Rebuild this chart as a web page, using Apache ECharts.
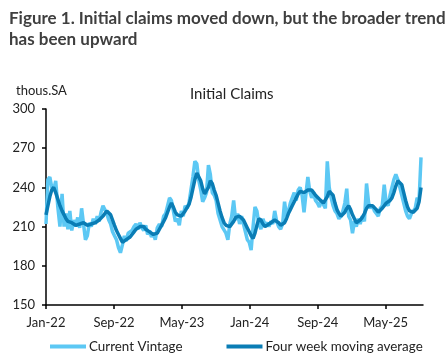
<!DOCTYPE html>
<html>
<head>
<meta charset="utf-8">
<script src="https://cdn.jsdelivr.net/npm/echarts@6/dist/echarts.min.js"></script>
<style>
html,body{margin:0;padding:0;background:#fff;}
#c{width:447px;height:358px;}
</style>
</head>
<body>
<div id="c"></div>
<script>
// Weekly data, first week ending 2022-01-01
const startDate = '2022-01-01';
const currentVintage = [
212,246,248,240,238,245,225,210,235,210,220,208,222,207,215,210,217,209,224,225,
200,203,213,210,216,212,218,214,221,226,227,220,215,212,206,203,200,194,190,196,
203,199,205,204,207,210,212,208,213,209,207,211,204,207,202,205,200,209,212,210,
218,220,226,232,230,222,214,216,211,222,218,226,224,228,238,248,260,258,245,238,
229,232,236,257,250,236,234,230,220,215,210,211,205,200,212,218,230,215,220,212,
218,212,206,200,198,192,210,225,222,212,208,216,211,213,210,214,212,222,214,210,
208,212,229,218,222,228,232,236,230,238,240,234,221,235,248,237,232,236,230,228,
225,230,227,224,260,240,232,226,222,220,216,218,222,228,239,218,215,205,214,210,
216,212,218,214,243,228,224,226,222,220,218,224,226,242,228,226,234,240,246,250,
246,240,234,228,222,218,216,220,222,224,232,230,263
];
const movingAverage = [
219,226,233,238,240,236,231,226,222,219,216,214,213,213,212,211,211,212,213,213,
212,211,211,212,213,213,214,215,216,218,220,222,222,219,215,211,207,204,201,198,
199,200,201,202,204,206,208,209,210,211,210,208,207,206,205,204,203,205,208,211,
214,217,221,225,228,225,221,219,218,218,220,222,223,227,232,239,246,251,250,245,
239,235,234,240,245,243,238,234,228,222,217,213,211,210,210,211,214,217,218,218,
217,215,212,209,206,203,201,205,211,216,215,212,210,211,212,213,214,215,215,213,
211,211,213,216,220,223,226,229,232,235,237,237,236,236,238,239,238,236,234,233,
231,230,228,229,233,237,238,234,228,223,220,218,218,221,224,226,223,219,216,213,
213,215,217,220,224,226,226,226,225,223,221,222,224,226,228,229,230,232,236,241,
245,246,242,236,230,225,222,221,221,222,224,229,240
];
const tickLabels = ['Jan-22','Sep-22','May-23','Jan-24','Sep-24','May-25'];
const titleText = 'Figure 1. Initial claims moved down, but the broader trend\nhas been upward';
const chartTitle = 'Initial Claims';
const unitLabel = 'thous.SA';
const seriesNames = ['Current Vintage','Four week moving average'];

function monthsSinceStart(d){
  const dim = new Date(Date.UTC(d.getUTCFullYear(), d.getUTCMonth()+1, 0)).getUTCDate();
  return (d.getUTCFullYear()-2022)*12 + d.getUTCMonth() + (d.getUTCDate()-1)/dim;
}
const t0 = new Date(startDate+'T00:00:00Z').getTime();
function build(arr){
  return arr.map((v,i)=>[monthsSinceStart(new Date(t0 + i*7*86400000)), v]);
}
const font = 'Lato, "Noto Sans", sans-serif';
const chart = echarts.init(document.getElementById('c'), null, {renderer:'canvas'});
chart.setOption({
  animation:false,
  backgroundColor:'#fff',
  title:[
    {text:titleText, left:4, top:3, textStyle:{fontFamily:font, fontSize:17, fontWeight:'bold', color:'#3f3f3f', lineHeight:21}},
    {text:chartTitle, left:185, top:82, textStyle:{fontFamily:font, fontSize:15, fontWeight:'normal', color:'#222'}},
    {text:unitLabel, left:11, top:79, textStyle:{fontFamily:font, fontSize:13, fontWeight:'normal', color:'#222'}}
  ],
  grid:{left:46, right:24, top:109, bottom:53},
  xAxis:{
    type:'value', min:0, max:44.4, interval:8,
    axisLine:{lineStyle:{color:'#000', width:1.5}},
    axisTick:{show:true, length:4, lineStyle:{color:'#000', width:1.5}},
    splitLine:{show:false},
    axisLabel:{showMaxLabel:false, fontFamily:font, fontSize:13, color:'#222', margin:11,
      formatter:(v)=>tickLabels[Math.round(v/8)] || ''}
  },
  yAxis:{
    type:'value', min:150, max:300, interval:30,
    axisLine:{show:true, lineStyle:{color:'#000', width:1.5}},
    axisTick:{show:true, length:4, lineStyle:{color:'#000', width:1.5}},
    splitLine:{show:false},
    axisLabel:{fontFamily:font, fontSize:13, color:'#222', margin:11}
  },
  legend:{
    bottom:0, left:45, itemGap:44, icon:'rect', itemWidth:36, itemHeight:4,
    textStyle:{fontFamily:font, fontSize:13.4, color:'#222', padding:[0,0,0,-2]},
    data:seriesNames
  },
  series:[
    {name:seriesNames[0], type:'line', data:build(currentVintage), showSymbol:false, symbol:'none',
     lineStyle:{color:'#5cc8f4', width:3.5}, itemStyle:{color:'#5cc8f4'}},
    {name:seriesNames[1], type:'line', data:build(movingAverage), showSymbol:false, symbol:'none',
     lineStyle:{color:'#0a7db5', width:3.5}, itemStyle:{color:'#0a7db5'}}
  ]
});
</script>
</body>
</html>
